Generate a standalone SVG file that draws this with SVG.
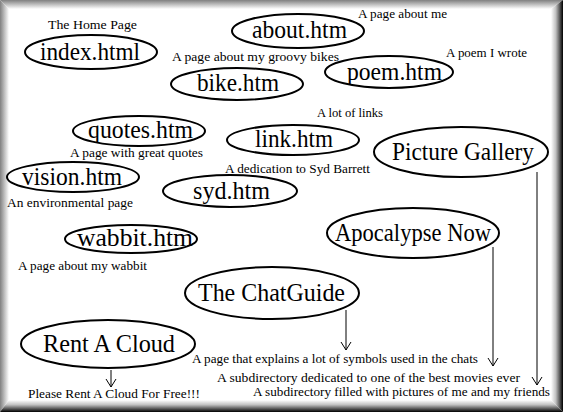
<svg xmlns="http://www.w3.org/2000/svg" width="563" height="412" viewBox="0 0 563 412">
<style>
  .node ellipse { fill: #fff; stroke: #000; stroke-width: 2; }
  .name { font-family: "Liberation Serif", "DejaVu Serif", "Times New Roman", serif; font-size: 25px; fill: #000; }
  .note { font-family: "Liberation Serif", "DejaVu Serif", "Times New Roman", serif; font-size: 13px; fill: #000; }
  .conn line { stroke: #000; stroke-width: 1; fill: none; }
</style>
<defs>
  <marker id="v" markerUnits="userSpaceOnUse" markerWidth="12" markerHeight="12" viewBox="-8 -6 10 12" refX="0" refY="0" orient="auto" overflow="visible">
    <path d="M-8,-5 L0,0 L-8,5" fill="none" stroke="#000" stroke-width="1"/>
  </marker>
  <linearGradient id="gl" x1="0" y1="0" x2="1" y2="0"><stop offset="0" stop-color="#808080"/><stop offset="1" stop-color="#ffffff"/></linearGradient>
  <linearGradient id="gt" x1="0" y1="0" x2="0" y2="1"><stop offset="0" stop-color="#808080"/><stop offset="1" stop-color="#ffffff"/></linearGradient>
  <linearGradient id="gr" x1="0" y1="0" x2="1" y2="0"><stop offset="0" stop-color="#ffffff"/><stop offset="0.4" stop-color="#c0c0c0"/><stop offset="0.75" stop-color="#505050"/><stop offset="1" stop-color="#000000"/></linearGradient>
  <linearGradient id="gb" x1="0" y1="0" x2="0" y2="1"><stop offset="0" stop-color="#ffffff"/><stop offset="0.4" stop-color="#c0c0c0"/><stop offset="0.75" stop-color="#505050"/><stop offset="1" stop-color="#000000"/></linearGradient>
</defs>
<rect x="0" y="0" width="563" height="412" fill="#fff"/>
<g id="frame">
  <polygon points="0,0 563,0 551,9 9,9" fill="url(#gt)"/>
  <polygon points="0,0 9,9 9,400 0,412" fill="url(#gl)"/>
  <polygon points="563,0 563,412 551,400 551,9" fill="url(#gr)"/>
  <polygon points="0,412 563,412 551,400 9,400" fill="url(#gb)"/>
</g>
<g id="connectors" class="conn">
  <line x1="346" y1="310" x2="346" y2="350" marker-end="url(#v)"/>
  <line x1="493" y1="247" x2="493" y2="366" marker-end="url(#v)"/>
  <line x1="537" y1="172" x2="537" y2="385" marker-end="url(#v)"/>
  <line x1="111" y1="370" x2="111" y2="387" marker-end="url(#v)"/>
</g>
<g id="index" class="node">
  <ellipse cx="91" cy="52" rx="66" ry="17"/>
  <text class="name" x="40" y="60" textLength="100" lengthAdjust="spacingAndGlyphs">index.html</text>
  <text class="note" x="48" y="29" textLength="89" lengthAdjust="spacingAndGlyphs">The Home Page</text>
</g>
<g id="about" class="node">
  <ellipse cx="298" cy="31" rx="66" ry="17"/>
  <text class="name" x="252" y="38" textLength="95" lengthAdjust="spacingAndGlyphs">about.htm</text>
  <text class="note" x="358" y="18" textLength="89" lengthAdjust="spacingAndGlyphs">A page about me</text>
</g>
<g id="bike" class="node">
  <ellipse cx="237" cy="84" rx="66" ry="16"/>
  <text class="name" x="197" y="91" textLength="82" lengthAdjust="spacingAndGlyphs">bike.htm</text>
  <text class="note" x="172" y="61" textLength="167" lengthAdjust="spacingAndGlyphs">A page about my groovy bikes</text>
</g>
<g id="poem" class="node">
  <ellipse cx="389" cy="72" rx="64" ry="16"/>
  <text class="name" x="347" y="80" textLength="95" lengthAdjust="spacingAndGlyphs">poem.htm</text>
  <text class="note" x="446" y="57" textLength="81" lengthAdjust="spacingAndGlyphs">A poem I wrote</text>
</g>
<g id="link" class="node">
  <ellipse cx="293" cy="140" rx="66" ry="15"/>
  <text class="name" x="255" y="147" textLength="78" lengthAdjust="spacingAndGlyphs">link.htm</text>
  <text class="note" x="317" y="117" textLength="66" lengthAdjust="spacingAndGlyphs">A lot of links</text>
</g>
<g id="quotes" class="node">
  <ellipse cx="139" cy="131" rx="66" ry="15"/>
  <text class="name" x="88" y="138" textLength="105" lengthAdjust="spacingAndGlyphs">quotes.htm</text>
  <text class="note" x="70" y="157" textLength="133" lengthAdjust="spacingAndGlyphs">A page with great quotes</text>
</g>
<g id="gallery" class="node">
  <ellipse cx="461" cy="152" rx="87" ry="25"/>
  <text class="name" x="392" y="160" textLength="142" lengthAdjust="spacingAndGlyphs">Picture Gallery</text>
  <text class="note" x="253" y="396" textLength="297" lengthAdjust="spacingAndGlyphs">A subdirectory filled with pictures of me and my friends</text>
</g>
<g id="vision" class="node">
  <ellipse cx="73" cy="177" rx="66" ry="15"/>
  <text class="name" x="22" y="185" textLength="100" lengthAdjust="spacingAndGlyphs">vision.htm</text>
  <text class="note" x="7" y="207" textLength="126" lengthAdjust="spacingAndGlyphs">An environmental page</text>
</g>
<g id="syd" class="node">
  <ellipse cx="230" cy="191" rx="67" ry="16"/>
  <text class="name" x="193" y="199" textLength="77" lengthAdjust="spacingAndGlyphs">syd.htm</text>
  <text class="note" x="225" y="173" textLength="145" lengthAdjust="spacingAndGlyphs">A dedication to Syd Barrett</text>
</g>
<g id="apocalypse" class="node">
  <ellipse cx="413" cy="233" rx="86" ry="25"/>
  <text class="name" x="335" y="241" textLength="156" lengthAdjust="spacingAndGlyphs">Apocalypse Now</text>
  <text class="note" x="217" y="382" textLength="303" lengthAdjust="spacingAndGlyphs">A subdirectory dedicated to one of the best movies ever</text>
</g>
<g id="wabbit" class="node">
  <ellipse cx="131" cy="239" rx="66" ry="14"/>
  <text class="name" x="77" y="246" textLength="116" lengthAdjust="spacingAndGlyphs">wabbit.htm</text>
  <text class="note" x="18" y="270" textLength="129" lengthAdjust="spacingAndGlyphs">A page about my wabbit</text>
</g>
<g id="chatguide" class="node">
  <ellipse cx="272" cy="293" rx="87" ry="26"/>
  <text class="name" x="198" y="301" textLength="147" lengthAdjust="spacingAndGlyphs">The ChatGuide</text>
  <text class="note" x="192" y="363" textLength="286" lengthAdjust="spacingAndGlyphs">A page that explains a lot of symbols used in the chats</text>
</g>
<g id="rentacloud" class="node">
  <ellipse cx="108" cy="344" rx="87" ry="24"/>
  <text class="name" x="43" y="352" textLength="132" lengthAdjust="spacingAndGlyphs">Rent A Cloud</text>
  <text class="note" x="28" y="398" textLength="172" lengthAdjust="spacingAndGlyphs">Please Rent A Cloud For Free!!!</text>
</g>
</svg>
